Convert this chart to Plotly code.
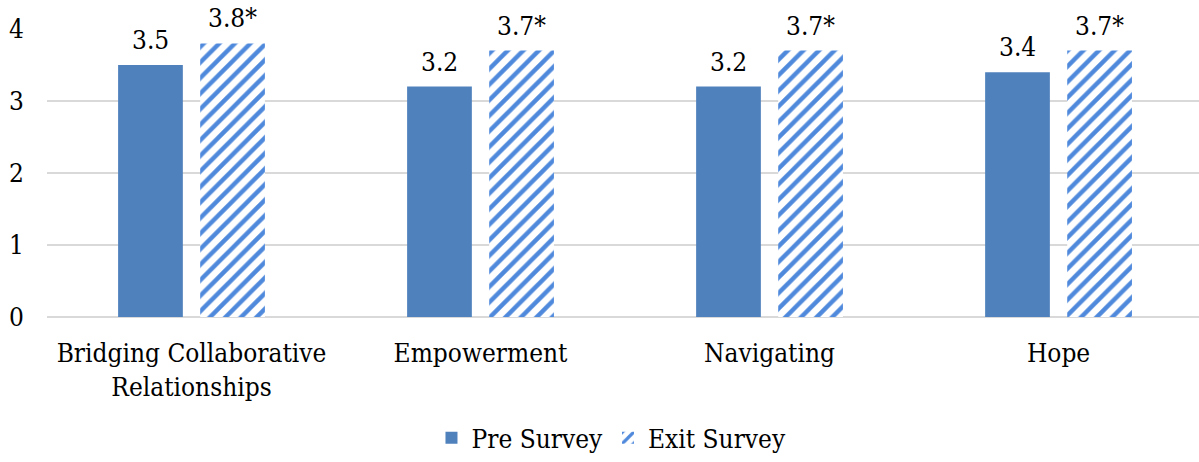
import plotly.graph_objects as go

# Survey scale scores by dimension
categories = ["Bridging Collaborative<br>Relationships", "Empowerment", "Navigating", "Hope"]
pre_survey = [3.5, 3.2, 3.2, 3.4]
exit_survey = [3.8, 3.7, 3.7, 3.7]
exit_labels = ["3.8*", "3.7*", "3.7*", "3.7*"]
y_ticks = [0, 1, 2, 3, 4]

FONT = "DejaVu Serif Condensed, DejaVu Serif"
PRE_COLOR = "#4f81bd"
EXIT_COLOR = "#4f89dc"
BAR_W = 0.224
PRE_OFF = -0.254
EXIT_OFF = 0.03

x_pos = list(range(len(categories)))

fig = go.Figure()
fig.add_trace(go.Bar(
    name="Pre Survey", x=x_pos, y=pre_survey,
    width=BAR_W, offset=PRE_OFF,
    marker=dict(color=PRE_COLOR, line=dict(width=0)),
))
fig.add_trace(go.Bar(
    name="Exit Survey", x=x_pos, y=exit_survey,
    width=BAR_W, offset=EXIT_OFF,
    marker=dict(
        color="white", line=dict(width=0),
        pattern=dict(shape="/", fgcolor=EXIT_COLOR, bgcolor="white",
                     size=11, solidity=0.4, fillmode="replace"),
    ),
))

# value labels above each bar
annotations = []
for i, v in enumerate(pre_survey):
    annotations.append(dict(
        x=i + PRE_OFF + BAR_W / 2, y=v, text=f"{v:.1f}", showarrow=False,
        yanchor="bottom", yshift=8, font=dict(family=FONT, size=26, color="black"),
    ))
for i, (v, t) in enumerate(zip(exit_survey, exit_labels)):
    annotations.append(dict(
        x=i + EXIT_OFF + BAR_W / 2, y=v, text=t, showarrow=False,
        yanchor="bottom", yshift=8, font=dict(family=FONT, size=26, color="black"),
    ))

fig.update_layout(
    width=1199, height=462,
    margin=dict(l=47, r=0, t=29, b=143),
    plot_bgcolor="white", paper_bgcolor="white",
    font=dict(family=FONT, size=26, color="black"),
    barmode="overlay",
    annotations=annotations,
    legend=dict(
        orientation="h", x=0.49, xanchor="center", y=-0.42, yanchor="middle",
        font=dict(family=FONT, size=26, color="black"),
        itemwidth=30, traceorder="normal",
    ),
    xaxis=dict(
        range=[-0.5, 3.486], tickvals=x_pos, ticktext=categories,
        showgrid=False, zeroline=False, showline=False, ticks="",
        tickfont=dict(family=FONT, size=26, color="black"),
        ticklabelstandoff=18,
    ),
    yaxis=dict(
        range=[0, 4], tickvals=y_ticks, showgrid=True, gridcolor="#d9d9d9",
        gridwidth=1.5, zeroline=True, zerolinecolor="#d9d9d9", zerolinewidth=1.5,
        showline=False, ticks="", ticklabelstandoff=22,
        tickfont=dict(family=FONT, size=26, color="black"),
    ),
)

fig.write_html("out.html")
